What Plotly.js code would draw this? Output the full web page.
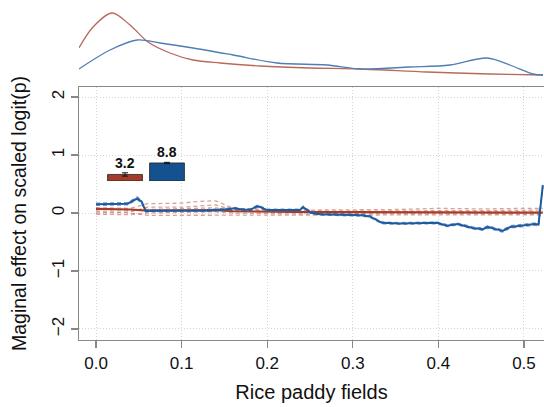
<!DOCTYPE html>
<html>
<head>
<meta charset="utf-8">
<script src="https://cdn.plot.ly/plotly-3.0.1.min.js"></script>
<style>html,body{margin:0;padding:0;background:#fff}#chart{width:544px;height:407px}</style>
</head>
<body>
<div id="chart"></div>
<script>
// ---- density panel (top) ----
const densRedX = [-0.02, -0.0035, 0.0187, 0.0397, 0.0607, 0.0864, 0.1133, 0.1449, 0.1916, 0.25, 0.3084, 0.3867, 0.4603, 0.5222];
const densRedY = [29, 50, 64, 52, 35, 24, 17, 14, 11, 9, 8, 5, 3, 2];
const densBlueX = [-0.02, 0.0164, 0.0479, 0.0748, 0.1133, 0.16, 0.2114, 0.2699, 0.3084, 0.3668, 0.4136, 0.4568, 0.4836, 0.5105, 0.5222];
const densBlueY = [8, 27, 37, 34, 29, 22, 14, 12, 8, 10, 12, 19, 12, 3, 2];

// ---- marginal effect lines ----
const redX = [0, 0.04, 0.06, 0.1, 0.12, 0.14, 0.16, 0.2, 0.25, 0.3, 0.35, 0.4, 0.45, 0.5, 0.522];
const redMain = [0.07, 0.06, 0.04, 0.04, 0.04, 0.05, 0.03, 0.02, 0.015, 0.015, 0.012, 0.012, 0.01, 0.008, 0.005];
const redBoot1 = [0.09, 0.08, 0.16, 0.17, 0.2, 0.21, 0.08, 0.06, 0.05, 0.05, 0.06, 0.08, 0.07, 0.08, 0.08];
const redBoot2 = [0.0, 0.02, 0.1, 0.1, 0.12, 0.14, 0.05, 0.04, 0.03, 0.03, 0.04, 0.04, 0.04, 0.05, 0.05];
const redBoot3 = [-0.02, -0.03, 0.0, 0.01, 0.02, 0.02, 0.0, -0.01, -0.02, -0.01, -0.01, -0.02, -0.02, -0.02, -0.02];
const redBoot4 = [0.03, 0.0, -0.04, -0.04, -0.03, -0.03, -0.03, -0.04, -0.03, -0.03, -0.03, -0.03, -0.04, -0.03, -0.03];
const redBoot5 = [0.06, 0.05, 0.06, 0.07, 0.08, 0.09, 0.04, 0.02, 0.02, 0.02, 0.02, 0.02, 0.02, 0.02, 0.02];

const blueX = [0, 0.01, 0.02, 0.03, 0.037, 0.043, 0.048, 0.053, 0.058, 0.07, 0.09, 0.11, 0.13, 0.15, 0.162, 0.17, 0.18, 0.189, 0.2, 0.22, 0.238, 0.242, 0.252, 0.262, 0.28, 0.297, 0.31, 0.32, 0.334, 0.355, 0.38, 0.398, 0.41, 0.422, 0.43, 0.44, 0.452, 0.458, 0.465, 0.475, 0.484, 0.495, 0.505, 0.513, 0.517, 0.522];
const blueMain = [0.15, 0.15, 0.15, 0.155, 0.16, 0.21, 0.25, 0.2, 0.035, 0.04, 0.04, 0.04, 0.045, 0.06, 0.08, 0.06, 0.055, 0.12, 0.05, 0.05, 0.05, 0.1, 0.0, -0.02, -0.025, -0.03, -0.04, -0.06, -0.17, -0.18, -0.175, -0.17, -0.22, -0.19, -0.22, -0.26, -0.28, -0.24, -0.27, -0.31, -0.24, -0.22, -0.2, -0.19, -0.2, 0.48];
const blueBoot1 = [0.17, 0.17, 0.17, 0.175, 0.18, 0.23, 0.28, 0.22, 0.05, 0.055, 0.05, 0.055, 0.06, 0.075, 0.095, 0.075, 0.07, 0.14, 0.065, 0.065, 0.065, 0.12, 0.015, -0.005, -0.01, -0.015, -0.025, -0.045, -0.155, -0.165, -0.16, -0.155, -0.2, -0.175, -0.2, -0.24, -0.26, -0.22, -0.25, -0.29, -0.22, -0.2, -0.18, -0.17, -0.18, 0.47];
const blueBoot2 = [0.13, 0.13, 0.135, 0.14, 0.14, 0.19, 0.23, 0.18, 0.02, 0.025, 0.025, 0.03, 0.03, 0.045, 0.065, 0.045, 0.04, 0.1, 0.035, 0.035, 0.035, 0.085, -0.015, -0.035, -0.04, -0.045, -0.055, -0.075, -0.185, -0.195, -0.19, -0.185, -0.235, -0.205, -0.235, -0.275, -0.3, -0.26, -0.29, -0.33, -0.26, -0.24, -0.22, -0.21, -0.22, 0.46];

// ---- relative importance inset ----
const impCats = [0, 1];
const impVals = [3.2, 8.8];
const impErr = [0.8, 0.3];

// ---- axis ticks ----
const xTicks = [0, 0.1, 0.2, 0.3, 0.4, 0.5];
const yTicks = [-2, -1, 0, 1, 2];

const RED_D = '#b8695a', BLUE_D = '#4f7db5';
const RED = '#a33c28', BLUE = '#1d5b9e';
const RED_L = 'rgba(205,130,115,0.75)', BLUE_L = 'rgba(60,110,175,0.7)';

const traces = [];
function boot(x, y, c) {
  traces.push({x: x, y: y, type: 'scatter', mode: 'lines', xaxis: 'x', yaxis: 'y',
    line: {color: c, width: 1.3, dash: '4px,3px'}, hoverinfo: 'skip'});
}
[redBoot1, redBoot2, redBoot3, redBoot4, redBoot5].forEach(b => boot(redX, b, RED_L));
traces.push({x: redX, y: redMain, type: 'scatter', mode: 'lines', xaxis: 'x', yaxis: 'y',
  line: {color: RED, width: 2.2}});
[blueBoot1, blueBoot2].forEach(b => boot(blueX, b, BLUE_L));
traces.push({x: blueX, y: blueMain, type: 'scatter', mode: 'lines', xaxis: 'x', yaxis: 'y',
  line: {color: BLUE, width: 2}});

traces.push({x: densRedX, y: densRedY, type: 'scatter', mode: 'lines', xaxis: 'x2', yaxis: 'y2',
  line: {color: RED_D, width: 1.3, shape: 'spline', smoothing: 0.9}});
traces.push({x: densBlueX, y: densBlueY, type: 'scatter', mode: 'lines', xaxis: 'x2', yaxis: 'y2',
  line: {color: BLUE_D, width: 1.3, shape: 'spline', smoothing: 0.9}});

traces.push({x: impCats, y: impVals, type: 'bar', xaxis: 'x3', yaxis: 'y3', width: 0.83,
  marker: {color: [RED, '#14528f'], line: {color: '#222', width: 0.8}},
  error_y: {type: 'data', array: impErr, visible: true, color: '#111', thickness: 1, width: 3}});

const annotations = impCats.map((c, i) => ({
  x: c, y: impVals[i], xref: 'x3', yref: 'y3', text: '<b>' + impVals[i].toFixed(1) + '</b>',
  showarrow: false, yanchor: 'bottom', yshift: 1,
  font: {family: 'Liberation Sans, Arial, sans-serif', size: 14, color: '#111'}
}));

const xr = [-0.0199, 0.5234];
const grid = {showgrid: true, gridcolor: '#d4d4d4', griddash: '1px,2px', gridwidth: 1, zeroline: false};
const layout = {
  width: 544, height: 407,
  margin: {l: 79, r: 0, t: 0, b: 67},
  paper_bgcolor: '#fff', plot_bgcolor: 'rgba(0,0,0,0)',
  showlegend: false,
  font: {family: 'Liberation Sans, Arial, sans-serif', color: '#111'},
  xaxis: Object.assign({range: xr, domain: [0, 1], anchor: 'y', tickvals: xTicks, tickformat: '.1f',
    ticks: 'outside', ticklen: 7, tickcolor: '#888', tickwidth: 1.2,
    showline: true, mirror: true, linecolor: '#888', linewidth: 1.3,
    tickfont: {size: 17, color: '#111'},
    title: {text: 'Rice paddy fields', font: {size: 20, color: '#111'}, standoff: 13}}, grid),
  yaxis: Object.assign({range: [-2.19, 2.172], domain: [0, 0.744], anchor: 'x', tickvals: yTicks,
    tickangle: -90, ticks: 'outside', ticklen: 7, tickcolor: '#888', tickwidth: 1.2,
    showline: true, linecolor: '#888', linewidth: 1.3,
    tickfont: {size: 17, color: '#111'},
    title: {text: 'Maginal effect on scaled logit(p)', font: {size: 19.5, color: '#111'}, standoff: 17}}, grid),
  xaxis2: {range: xr, domain: [0, 1], anchor: 'y2', visible: false},
  yaxis2: {range: [-3, 77], domain: [0.7647, 1], anchor: 'x2', visible: false},
  xaxis3: {range: [-0.5, 1.5], domain: [0.0538, 0.2344], anchor: 'y3', visible: false},
  yaxis3: {range: [0, 10], domain: [0.4676, 0.528], anchor: 'x3', visible: false},
  annotations: annotations
};

Plotly.newPlot('chart', traces, layout, {displayModeBar: false, staticPlot: true});
</script>
</body>
</html>
